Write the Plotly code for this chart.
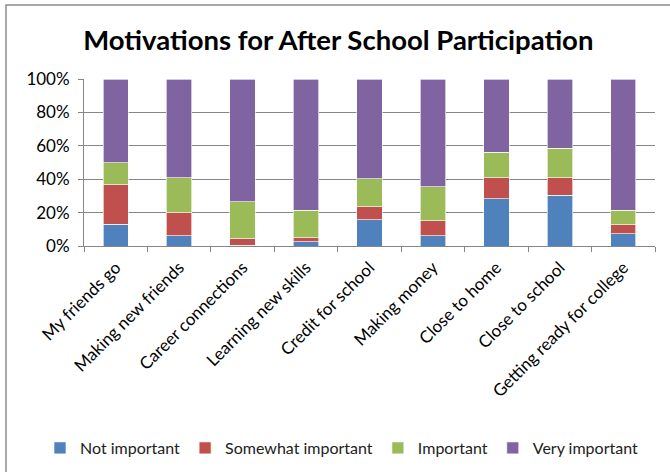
import plotly.graph_objects as go

categories = [
    "My friends go", "Making new friends", "Career connections",
    "Learning new skills", "Credit for school", "Making money",
    "Close to home", "Close to school", "Getting ready for college",
]
not_important = [13.0, 6.2, 0.6, 2.4, 15.8, 6.2, 28.2, 30.4, 7.2]
somewhat_important = [23.6, 13.6, 3.8, 2.6, 7.6, 9.0, 12.8, 10.6, 5.4]
important = [13.2, 21.2, 22.0, 16.4, 16.8, 20.2, 15.2, 17.6, 8.8]
very_important = [50.2, 59.0, 73.6, 78.6, 59.8, 64.6, 43.8, 41.4, 78.6]

series = [
    ("Not important", not_important, "#4F81BD"),
    ("Somewhat important", somewhat_important, "#C0504D"),
    ("Important", important, "#9BBB59"),
    ("Very important", very_important, "#8064A2"),
]

FONT = "Lato, Carlito, 'Open Sans', sans-serif"

fig = go.Figure()
for name, vals, color in series:
    fig.add_trace(go.Bar(
        name=name, x=categories, y=vals,
        marker=dict(color=color, line=dict(color="rgba(255,255,255,0.8)", width=0.8)),
    ))

# plot area geometry in pixels (used to place the outer frame)
W, H = 670, 472
L, R, T, B = 84, 15, 79, 226
pw, ph = W - L - R, H - T - B

def px_x(x):
    return (x - L) / pw

def px_y(y):
    return (H - B - y) / ph

fig.add_shape(
    type="rect", xref="paper", yref="paper",
    x0=px_x(6), x1=px_x(676), y0=px_y(480), y1=px_y(5),
    line=dict(color="#8c8c8c", width=1.5), fillcolor="rgba(0,0,0,0)", layer="below",
)

fig.update_layout(
    barmode="stack",
    bargap=0.6,
    width=W, height=H,
    margin=dict(l=L, r=R, t=T, b=B, pad=0, autoexpand=False),
    paper_bgcolor="white", plot_bgcolor="white",
    font=dict(family=FONT, size=16, color="#222222"),
    title=dict(
        text="<b>Motivations for After School Participation</b>",
        x=0.505, xanchor="center", y=1 - 40 / H, yanchor="middle",
        font=dict(family=FONT, size=27.5, color="#000000"),
    ),
    showlegend=True,
    legend=dict(
        orientation="h",
        x=px_x(40), xanchor="left",
        y=px_y(448), yanchor="middle",
        font=dict(family=FONT, size=16, color="#222222"),
        traceorder="normal", itemwidth=30,
    ),
    xaxis=dict(
        type="category", tickangle=-45, automargin=False,
        showline=True, linecolor="#868686", linewidth=1,
        ticks="outside", tickson="boundaries", ticklen=5,
        tickcolor="#868686", showgrid=False,
        ticklabelstandoff=4,
        tickfont=dict(family=FONT, size=17, color="#000000"),
    ),
    yaxis=dict(
        range=[0, 100], tickvals=[0, 20, 40, 60, 80, 100],
        ticktext=["0%", "20%", "40%", "60%", "80%", "100%"],
        automargin=False,
        showgrid=True, gridcolor="#868686", gridwidth=1,
        showline=True, linecolor="#868686", linewidth=1,
        ticks="outside", ticklen=5, tickcolor="#868686",
        zeroline=False, ticklabelstandoff=5,
        tickfont=dict(family=FONT, size=17, color="#000000"),
    ),
)

fig.write_html("out.html")
